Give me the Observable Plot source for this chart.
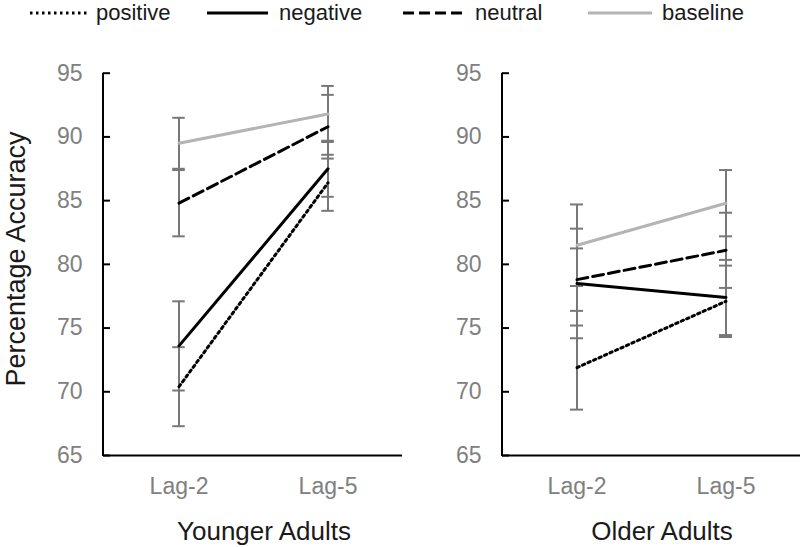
<!DOCTYPE html>
<html>
<head>
<meta charset="utf-8">
<script src="https://cdn.jsdelivr.net/npm/d3@7"></script>
<script src="https://cdn.jsdelivr.net/npm/@observablehq/plot@0.6"></script>
<style>
  body { margin: 0; background: #fff; }
  #wrap { position: relative; width: 800px; height: 547px; background: #fff; font-family: "Liberation Sans", Arial, sans-serif; overflow: hidden; }
  .abs { position: absolute; white-space: nowrap; }
  .leg { font-size: 22px; color: #1a1a1a; line-height: 20px; top: 2.5px; }
  .title { font-size: 26px; color: #1a1a1a; line-height: 26px; }
  .ytitle { font-size: 27px; color: #1a1a1a; line-height: 30px; }
</style>
</head>
<body>
<div id="wrap"></div>
<script>
// ---- data ----
const groups = ["Younger Adults", "Older Adults"];
const lags = ["Lag-2", "Lag-5"];
const conditions = ["positive", "negative", "neutral", "baseline"];
const yTicks = [65, 70, 75, 80, 85, 90, 95];

// means [Lag-2, Lag-5]
const youngPositive = [70.4, 86.4];
const youngNegative = [73.6, 87.5];
const youngNeutral  = [84.8, 90.8];
const youngBaseline = [89.5, 91.8];
// error half-widths [Lag-2, Lag-5]
const youngPositiveErr = [3.1, 2.2];
const youngNegativeErr = [3.5, 2.2];
const youngNeutralErr  = [2.6, 2.5];
const youngBaselineErr = [2.0, 2.2];

const oldPositive = [71.9, 77.1];
const oldNegative = [78.5, 77.4];
const oldNeutral  = [78.8, 81.1];
const oldBaseline = [81.5, 84.8];
const oldPositiveErr = [3.3, 2.8];
const oldNegativeErr = [4.3, 2.95];
const oldNeutralErr  = [2.45, 2.95];
const oldBaselineErr = [3.2, 2.6];

// ---- styles ----
const condStyle = {
  positive: {stroke: "#000000", dash: "2.5,3.5"},
  negative: {stroke: "#000000", dash: null},
  neutral:  {stroke: "#000000", dash: "11,5"},
  baseline: {stroke: "#b4b4b4", dash: null}
};

function buildRows(means, errs) {
  const rows = [];
  conditions.forEach((c, ci) => {
    lags.forEach((lag, li) => {
      rows.push({cond: c, lag, value: means[ci][li], lo: means[ci][li] - errs[ci][li], hi: means[ci][li] + errs[ci][li]});
    });
  });
  return rows;
}
const youngRows = buildRows([youngPositive, youngNegative, youngNeutral, youngBaseline],
                            [youngPositiveErr, youngNegativeErr, youngNeutralErr, youngBaselineErr]);
const oldRows = buildRows([oldPositive, oldNegative, oldNeutral, oldBaseline],
                          [oldPositiveErr, oldNegativeErr, oldNeutralErr, oldBaselineErr]);

const H = 547, MT = 72.7, MB = 92;
const errColor = "#787878";

function panel(rows, width, marginLeft) {
  const plotW = width - marginLeft;
  const band = plotW / lags.length;
  const capInset = band / 2 - 6.5;
  const marks = [
    Plot.ruleY([yTicks[0]], {stroke: "#000", strokeWidth: 2}),
    Plot.tickY(yTicks, {y: d => d, stroke: "#000", strokeWidth: 2, insetRight: plotW - 7}),
    Plot.axisY({ticks: yTicks, tickSize: 0, tickPadding: 21, fill: "#808080", fontSize: 23}),
    Plot.axisX({tickSize: 0, tickPadding: 22, fill: "#808080", fontSize: 23}),
    Plot.ruleX(rows, {x: "lag", y1: "lo", y2: "hi", stroke: errColor, strokeWidth: 2}),
    Plot.tickY(rows, {x: "lag", y: "lo", stroke: errColor, strokeWidth: 2, insetLeft: capInset, insetRight: capInset}),
    Plot.tickY(rows, {x: "lag", y: "hi", stroke: errColor, strokeWidth: 2, insetLeft: capInset, insetRight: capInset})
  ];
  for (const c of conditions) {
    const s = condStyle[c];
    marks.push(Plot.line(rows.filter(r => r.cond === c), {
      x: "lag", y: "value", stroke: s.stroke, strokeWidth: 3,
      strokeDasharray: s.dash
    }));
  }
  const chart = Plot.plot({
    width, height: H,
    marginLeft, marginRight: 0, marginTop: MT, marginBottom: MB,
    style: {fontFamily: "'Liberation Sans', Arial, sans-serif", fontSize: "23px", background: "transparent", overflow: "visible"},
    x: {type: "band", domain: lags, padding: 0, label: null},
    y: {domain: [65, 95], label: null},
    marks
  });
  // left axis line drawn from the plot's own scales
  const xr = chart.scale("x").range;
  const yr = chart.scale("y").range;
  d3.select(chart).append("line")
    .attr("x1", xr[0]).attr("x2", xr[0])
    .attr("y1", Math.max(...yr) + 1).attr("y2", Math.min(...yr))
    .attr("stroke", "#000").attr("stroke-width", 2);
  return chart;
}

const wrap = document.getElementById("wrap");
const left = panel(youngRows, 402, 103);
left.style.position = "absolute"; left.style.left = "0px"; left.style.top = "0px";
wrap.appendChild(left);
const right = panel(oldRows, 400, 102);
right.style.position = "absolute"; right.style.left = "400px"; right.style.top = "0px";
wrap.appendChild(right);

// ---- titles ----
function addText(txt, cls, css) {
  const d = document.createElement("div");
  d.className = "abs " + cls;
  d.textContent = txt;
  Object.assign(d.style, css);
  wrap.appendChild(d);
  return d;
}
addText(groups[0], "title", {left: "264px", top: "518px", transform: "translateX(-50%)"});
addText(groups[1], "title", {left: "662px", top: "518px", transform: "translateX(-50%)"});
addText("Percentage Accuracy", "ytitle", {left: "15.5px", top: "259px", transform: "translate(-50%,-50%) rotate(-90deg)"});

// ---- legend ----
const legendPos = {positive: [30, 88, 96], negative: [207, 268, 279], neutral: [403, 463, 475], baseline: [588, 652, 662]};
const ns = "http://www.w3.org/2000/svg";
const lsvg = document.createElementNS(ns, "svg");
lsvg.setAttribute("width", 800); lsvg.setAttribute("height", 30);
lsvg.style.position = "absolute"; lsvg.style.left = "0px"; lsvg.style.top = "0px";
wrap.appendChild(lsvg);
for (const c of conditions) {
  const [x1, x2, tx] = legendPos[c];
  const s = condStyle[c];
  const ln = document.createElementNS(ns, "line");
  ln.setAttribute("x1", x1); ln.setAttribute("x2", x2);
  ln.setAttribute("y1", 13); ln.setAttribute("y2", 13);
  ln.setAttribute("stroke", s.stroke); ln.setAttribute("stroke-width", 3);
  if (s.dash) ln.setAttribute("stroke-dasharray", s.dash);
  lsvg.appendChild(ln);
  addText(c, "leg", {left: tx + "px"});
}
</script>
</body>
</html>
